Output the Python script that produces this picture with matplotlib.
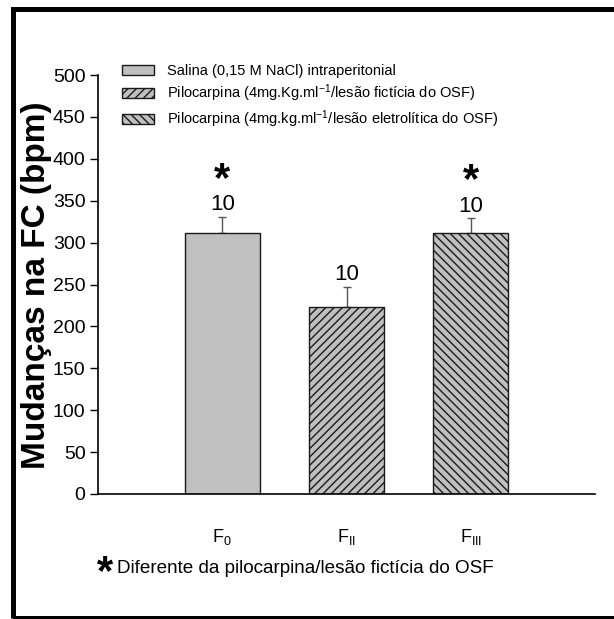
import matplotlib
matplotlib.use("Agg")
import matplotlib.pyplot as plt
from matplotlib.patches import Rectangle
import numpy as np

plt.rcParams['font.family'] = ['Liberation Sans', 'DejaVu Sans']
plt.rcParams['mathtext.fontset'] = 'custom'
plt.rcParams['mathtext.rm'] = 'Liberation Sans'
plt.rcParams['mathtext.it'] = 'Liberation Sans:italic'
plt.rcParams['mathtext.bf'] = 'Liberation Sans:bold'
plt.rcParams['hatch.linewidth'] = 1.0

# Data
groups = [r'F$_\mathregular{0}$', r'F$_\mathregular{II}$', r'F$_\mathregular{III}$']
means = [312, 223, 311]
errors = [19, 24, 18]
n_labels = ['10', '10', '10']
significant = [True, False, True]
series_names = ['Salina (0,15 M NaCl) intraperitonial',
                r'Pilocarpina (4mg.Kg.ml$^\mathregular{-1}$/lesão fictícia do OSF)',
                r'Pilocarpina (4mg.kg.ml$^\mathregular{-1}$/lesão eletrolítica do OSF)']
hatches = ['', '////', '\\\\\\\\']
yticks = [0, 50, 100, 150, 200, 250, 300, 350, 400, 450, 500]

W, H = 614, 619
fig = plt.figure(figsize=(W / 100, H / 100), dpi=100)
ax = fig.add_axes([98 / W, 1 - 494 / H, (595 - 98) / W, (494 - 75) / H])

x = np.arange(1, len(means) + 1)
for i in range(len(means)):
    ax.bar(x[i], means[i], width=0.6, color='#c0c0c0', edgecolor='#1a1a1a',
           linewidth=1.0, hatch=hatches[i], label=series_names[i], zorder=2)

ax.errorbar(x, means, yerr=[np.zeros(len(errors)), errors], fmt='none',
            ecolor='#555555', elinewidth=1, capsize=3, capthick=1, zorder=1)

for i in range(len(means)):
    top = means[i] + errors[i]
    ax.text(x[i], top + 8, n_labels[i], ha='center', va='baseline', fontsize=16)
    if significant[i]:
        ax.text(x[i], top + 31, '*', ha='center', va='baseline', fontsize=30,
                fontweight='bold')

ax.set_xlim(0, 4)
ax.set_ylim(0, 500)
ax.set_yticks(yticks)
ax.set_xticks(x)
ax.set_xticklabels(groups, fontsize=13)
ax.tick_params(axis='x', length=0, pad=24)
ax.tick_params(axis='y', direction='out', length=6, width=1, labelsize=14, pad=3)
for s in ['top', 'right']:
    ax.spines[s].set_visible(False)
for s in ['left', 'bottom']:
    ax.spines[s].set_linewidth(1.2)

fig.text(37 / W, 1 - 285 / H, 'Mudanças na FC (bpm)', rotation=90, ha='center',
         va='center', fontsize=24, fontweight='bold')

ax.legend(loc='upper left', bbox_to_anchor=(122 / W, 1 - 64 / H),
          bbox_transform=fig.transFigure, frameon=False, fontsize=10.5,
          borderpad=0, borderaxespad=0, handlelength=2.2, handleheight=0.7,
          handletextpad=0.9, labelspacing=0.3)

fig.text(97 / W, 1 - 584 / H, '*', fontsize=30, fontweight='bold', ha='left',
         va='baseline')
fig.text(117 / W, 1 - 573 / H, 'Diferente da pilocarpina/lesão fictícia do OSF',
         fontsize=13.6, ha='left', va='baseline')

fig.add_artist(Rectangle((12.5 / W, 1 - 617.5 / H), 1.1, (617.5 - 9) / H,
                         transform=fig.transFigure, fill=False, edgecolor='black',
                         linewidth=3.6, clip_on=False))

fig.savefig('out.png', dpi=100)
